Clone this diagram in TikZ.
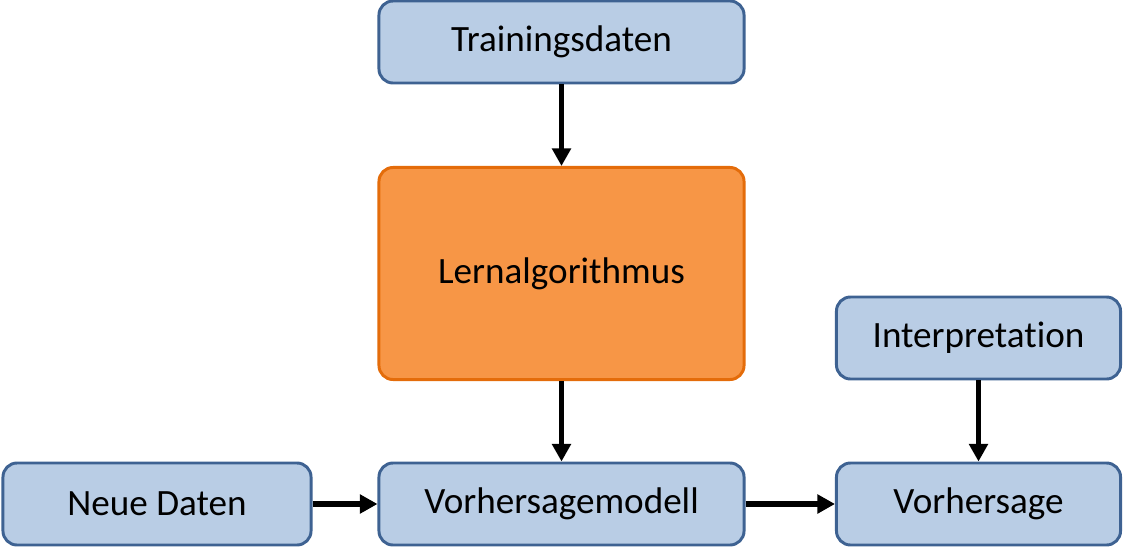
\documentclass[tikz,border=0pt]{standalone}
\usepackage{fontspec}
\setmainfont{Carlito}[Ligatures=NoCommon]
\usepackage{tikz}
\usetikzlibrary{positioning, arrows.meta}
\definecolor{boxblue}{RGB}{185,205,229}
\definecolor{lineblue}{RGB}{62,98,146}
\definecolor{algoorange}{RGB}{247,150,70}
\definecolor{algoline}{RGB}{228,108,10}

\begin{document}
\begin{tikzpicture}[x=0.025cm, y=0.025cm,
  block/.style={draw=lineblue, fill=boxblue, line width=2.1pt, rounded corners=10pt,
                minimum width=9.125cm, minimum height=2.05cm,
                text centered, font=\fontsize{26.4}{31}\selectfont},
  algo/.style={block, draw=algoline, fill=algoorange, minimum height=5.3cm},
  arr/.style={-{Triangle[length=12.5pt, width=13pt]}, line width=4pt}
]
  \useasboundingbox (0,0) rectangle (1124,549);

  %% Layout: three columns, top to bottom
  \node[block] (train)  at (561.5,507)   {Trainingsdaten};
  \node[algo]  (learn)  at (561.5,275.5) {Lernalgorithmus};
  \node[block, minimum width=7.1cm] (interp) at (978.5,211) {Interpretation};
  \node[block, minimum width=7.7cm] (newdata) at (157,45)   {Neue Daten};
  \node[block] (model)  at (561.5,45)    {Vorhersagemodell};
  \node[block, minimum width=7.1cm] (pred)   at (978.5,45)  {Vorhersage};

  %% Vertical arrows
  \draw[arr] (train) -- (learn);
  \draw[arr] (learn) -- (model);
  \draw[arr] (interp) -- (pred);
  %% Horizontal arrows along the bottom row
  \draw[arr] (newdata) -- (model);
  \draw[arr] (model) -- (pred);
\end{tikzpicture}
\end{document}
